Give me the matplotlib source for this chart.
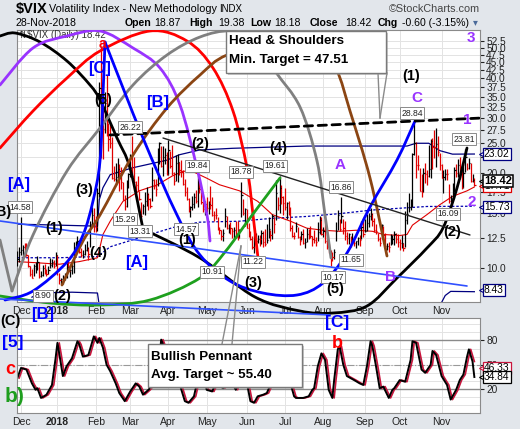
import matplotlib
matplotlib.use('Agg')
import matplotlib.pyplot as plt
from matplotlib.path import Path
from matplotlib.patches import PathPatch, Rectangle
from matplotlib.lines import Line2D
import matplotlib.ticker as mticker
import numpy as np
import pandas as pd

plt.rcParams['font.family'] = ['Liberation Sans', 'DejaVu Sans']

# ---- daily VIX bars, 29-Nov-2017 .. 28-Nov-2018 ----
close = [
    10.70, 11.28,
    11.43, 11.68, 11.33, 11.02, 10.16, 9.58, 9.34, 10.18, 10.18, 10.49, 9.42, 9.53, 10.03, 9.72, 9.62, 9.90, 10.25, 10.47, 10.18, 11.04,
    9.77, 9.15, 9.22, 9.22, 9.52, 10.08, 9.82, 9.88, 10.16, 11.66, 11.91, 12.22, 11.27, 11.03, 11.10, 11.47, 11.58, 11.08, 13.84, 14.79, 13.54,
    13.47, 17.31, 37.32, 29.98, 27.73, 33.46, 29.06, 25.61, 24.97, 19.26, 19.13, 19.46, 20.60, 20.02, 18.72, 16.49, 15.80, 18.59, 19.85,
    22.47, 19.59, 18.73, 18.36, 17.76, 16.54, 14.64, 15.78, 16.35, 17.23, 16.59, 15.80, 19.02, 18.20, 17.86, 23.34, 24.87, 21.03, 22.50, 22.87, 19.97,
    23.62, 21.10, 20.06, 18.94, 21.49, 21.77, 20.47, 20.24, 18.49, 17.41, 16.56, 15.25, 15.60, 15.96, 16.88, 16.34, 18.02, 17.84, 16.24, 15.41, 15.93,
    15.49, 15.97, 15.90, 14.77, 14.75, 14.71, 13.42, 13.23, 12.65, 12.93, 14.63, 13.42, 13.43, 13.42, 13.08, 13.22, 12.58, 12.53, 13.22, 17.02, 14.94, 15.43,
    13.46, 12.74, 12.40, 11.64, 12.13, 12.18, 12.35, 12.34, 12.94, 12.12, 11.98, 12.31, 13.35, 12.79, 14.64, 13.77, 17.33, 15.92, 17.91, 16.85, 16.09,
    15.60, 16.14, 14.97, 13.37, 12.69, 12.64, 13.63, 12.58, 12.18, 12.83, 12.06, 12.10, 12.87, 12.86, 12.62, 12.41, 12.29, 12.14, 13.03, 14.26, 12.83,
    13.15, 12.19, 11.64, 11.27, 10.93, 10.85, 11.27, 13.16, 14.78, 13.31, 14.64, 13.45, 12.64, 12.49, 12.86, 12.25, 12.41, 11.99, 12.16, 12.50, 12.25, 13.53, 12.86,
    13.16, 13.91, 14.65, 14.88, 14.16, 13.22, 13.14, 12.37, 12.07, 13.68, 12.79, 11.75, 11.80, 11.68, 12.20, 12.42, 12.89, 12.41, 12.12,
    12.00, 12.05, 11.61, 14.22, 14.82, 15.69, 15.95, 22.96, 24.98, 21.31, 21.30, 17.62, 17.40, 20.06, 19.89, 19.64, 20.71, 25.23, 24.22, 24.16, 24.70, 23.35, 21.23,
    19.34, 19.51, 19.96, 19.91, 16.36, 16.72, 17.36, 20.45, 20.02, 21.25, 19.98, 18.14, 20.10, 22.48, 20.80, 21.52, 18.90, 19.02, 18.42,
]
high = [
    11.32, 11.68,
    14.58, 11.83, 12.05, 12.01, 10.98, 10.18, 9.98, 10.32, 10.48, 10.95, 10.50, 9.81, 10.28, 10.35, 9.97, 10.15, 10.77, 10.67, 10.63, 11.26,
    10.98, 9.65, 9.31, 9.54, 9.66, 10.38, 10.83, 9.98, 10.45, 12.15, 12.19, 12.66, 12.28, 11.56, 11.41, 11.96, 12.18, 11.68, 14.15, 15.66, 15.48,
    14.63, 17.96, 38.80, 50.30, 31.64, 36.17, 41.06, 28.87, 28.63, 26.06, 21.16, 21.50, 22.31, 21.48, 20.90, 18.79, 17.06, 18.98, 20.03,
    23.00, 26.22, 22.46, 18.97, 19.55, 17.64, 16.20, 16.04, 17.42, 18.05, 17.37, 16.69, 20.95, 19.14, 19.17, 23.98, 25.07, 24.46, 24.47, 24.11, 23.42,
    25.54, 23.46, 24.60, 20.15, 22.85, 22.98, 21.78, 21.98, 20.54, 19.19, 18.06, 16.74, 15.76, 16.93, 17.31, 17.75, 19.84, 19.68, 18.08, 16.27, 16.35,
    16.78, 16.34, 18.17, 16.85, 15.21, 15.58, 14.57, 13.55, 13.25, 13.30, 15.47, 14.61, 13.86, 14.00, 13.38, 13.50, 14.15, 14.11, 13.29, 18.78, 16.60, 15.50,
    15.43, 13.93, 13.12, 12.67, 12.84, 12.96, 12.71, 12.76, 13.21, 13.12, 13.31, 13.82, 14.52, 13.24, 14.89, 14.53, 19.03, 16.84, 19.61, 18.35, 16.93,
    17.92, 16.18, 16.34, 15.65, 13.71, 13.03, 14.05, 13.52, 12.70, 13.10, 13.35, 12.48, 13.46, 13.28, 13.58, 12.65, 13.21, 12.58, 14.04, 14.69, 14.53,
    13.56, 14.21, 12.55, 11.97, 11.45, 11.26, 11.51, 13.97, 15.29, 14.30, 16.86, 14.32, 14.09, 13.04, 12.95, 12.69, 12.98, 12.57, 12.19, 12.59, 12.77, 14.15, 14.09,
    14.33, 14.86, 15.02, 15.58, 15.01, 14.48, 13.82, 12.91, 12.56, 13.85, 13.57, 12.91, 12.04, 12.11, 12.84, 12.79, 13.11, 12.90, 12.85,
    12.38, 12.71, 11.99, 15.18, 16.23, 17.36, 16.63, 23.16, 28.84, 25.17, 22.81, 20.85, 19.93, 20.77, 21.57, 20.43, 24.63, 25.71, 25.96, 27.37, 27.83, 26.22, 23.25,
    21.46, 20.50, 20.60, 20.69, 18.56, 17.06, 18.69, 20.95, 21.33, 22.18, 22.45, 21.03, 21.39, 23.81, 21.61, 22.34, 21.63, 19.89, 19.38,
]
low = [
    10.18, 10.44,
    10.99, 10.65, 10.84, 10.91, 10.13, 9.45, 9.31, 9.42, 9.66, 9.88, 9.33, 9.38, 9.42, 9.60, 9.43, 9.56, 10.01, 10.09, 10.03, 10.18,
    9.52, 8.92, 8.92, 8.90, 9.19, 9.31, 9.73, 9.40, 9.57, 9.64, 11.04, 11.66, 11.20, 10.86, 10.81, 10.98, 11.35, 10.62, 11.70, 13.56, 13.06,
    13.05, 13.15, 16.80, 22.42, 22.21, 26.87, 26.20, 23.58, 24.07, 19.19, 18.93, 18.41, 19.17, 17.60, 17.79, 16.40, 15.29, 15.60, 17.95,
    19.40, 19.12, 17.64, 17.05, 17.58, 16.46, 14.53, 14.85, 14.80, 15.79, 15.29, 15.54, 16.34, 17.88, 16.92, 18.27, 21.41, 20.93, 19.56, 21.37, 19.73,
    19.72, 20.83, 19.73, 18.38, 18.94, 18.72, 19.81, 19.52, 18.33, 16.96, 16.50, 15.04, 14.57, 15.29, 15.47, 16.15, 15.64, 17.33, 16.02, 15.13, 14.77,
    15.12, 14.84, 15.38, 14.62, 14.16, 14.28, 13.26, 12.80, 12.26, 12.19, 13.51, 13.28, 12.90, 12.83, 12.47, 12.36, 12.48, 12.25, 12.47, 14.58, 14.73, 13.63,
    13.45, 12.58, 12.26, 11.55, 11.22, 11.84, 12.06, 11.75, 11.96, 11.72, 11.73, 12.06, 12.46, 12.18, 12.39, 12.90, 14.18, 15.28, 14.95, 16.01, 14.74,
    15.33, 14.28, 14.80, 13.16, 12.52, 12.36, 13.04, 12.51, 11.87, 12.31, 11.93, 11.60, 12.08, 12.40, 12.43, 11.74, 12.00, 11.80, 12.21, 12.87, 12.71,
    12.57, 12.03, 11.52, 11.18, 10.17, 10.53, 10.73, 12.20, 13.27, 13.08, 13.88, 12.87, 12.32, 11.98, 11.92, 11.65, 11.90, 11.78, 11.63, 11.86, 11.77, 12.42, 12.55,
    12.99, 13.14, 13.52, 14.22, 13.62, 13.04, 12.84, 12.20, 11.74, 12.38, 12.46, 11.56, 11.40, 11.27, 11.84, 11.95, 11.87, 12.00, 11.71,
    11.42, 11.62, 11.34, 11.67, 13.85, 15.07, 15.29, 15.65, 22.80, 19.34, 20.52, 17.55, 16.81, 17.44, 18.58, 18.30, 19.43, 19.27, 20.71, 22.43, 20.90, 22.73, 20.55,
    19.28, 17.35, 19.05, 19.02, 16.09, 16.27, 16.81, 17.45, 19.45, 19.51, 19.25, 17.86, 18.03, 20.21, 20.47, 20.59, 18.82, 18.74, 18.18,
]
holidays = ['2017-12-25', '2018-01-01', '2018-01-15', '2018-02-19', '2018-03-30',
            '2018-05-28', '2018-07-04', '2018-09-03', '2018-11-22']
month_names = ['Dec', '2018', 'Feb', 'Mar', 'Apr', 'May', 'Jun', 'Jul', 'Aug', 'Sep', 'Oct', 'Nov']
price_ticks = [10.0, 12.5, 15.0, 17.5, 20.0, 22.5, 25.0, 27.5, 30.0, 32.5, 35.0, 37.5,
               40.0, 42.5, 45.0, 47.5, 50.0, 52.5]
osc_ticks = [20, 50, 80]

# overlays (bar index, value)
ma50_idx = [0, 12, 23, 34, 44, 47, 51, 58, 67, 77, 85, 91, 96, 104, 111, 122, 132, 140, 150,
            159, 168, 177, 186, 195, 201, 210, 214, 217, 225, 232, 239, 247, 251]
ma50_val = [10.5, 10.4, 10.3, 10.5, 10.8, 12.8, 14.1, 16.3, 17.6, 18.4, 19.6, 20.3, 20.3, 19.3,
            18.4, 17.6, 16.3, 14.8, 14.1, 13.4, 13.2, 13.1, 13.2, 13.1, 12.8, 12.7, 12.8, 13.7,
            14.8, 15.9, 16.9, 17.6, 18.1]
ma200_idx = [0, 23, 44, 51, 69, 88, 100, 122, 140, 159, 177, 195, 210, 225, 251]
ma200_val = [10.8, 10.8, 10.9, 11.7, 12.6, 13.6, 14.0, 14.1, 14.4, 14.6, 14.9, 15.3, 15.5, 15.7, 15.73]
bb_up_idx = [0, 23, 44, 45, 47, 51, 63, 82, 89, 100, 118, 159, 195, 214, 219, 226, 232, 239, 251]
bb_up_val = [13.8, 13.7, 13.6, 16.5, 18.0, 19.8, 20.8, 22.0, 22.9, 23.7, 24.0, 24.4, 24.4, 24.4,
             24.9, 24.9, 23.6, 23.0, 23.02]
bb_lo_idx = [8, 12, 30, 44, 45, 140, 232, 235, 238, 251]
bb_lo_val = [8.1, 8.35, 8.4, 8.35, 7.6, np.nan, 7.6, 8.2, 8.45, 8.43]

# lower oscillator
osc_idx = [0, 2, 5, 8, 10, 11, 13, 16, 19, 21, 22, 23, 25, 27, 30, 33, 34, 36, 39, 42, 44, 45, 47,
           49, 51, 54, 56, 59, 62, 65, 67, 69, 72, 75, 77, 79, 80, 82, 86, 89, 92, 94, 97, 99, 101,
           104, 107, 109, 113, 117, 120, 122, 125, 128, 130, 132, 135, 137, 139, 142, 146, 150,
           152, 153, 157, 160, 162, 163, 165, 167, 169, 171, 173, 174, 176, 177, 179, 181, 185,
           188, 190, 192, 194, 195, 197, 199, 201, 204, 206, 207, 210, 213, 216, 217, 219, 222,
           224, 227, 228, 230, 233, 236, 238, 241, 243, 245, 247, 248, 250, 251]
osc_k = [33.6, 46, 44, 27, 19, 21, 9, 13, 25, 58, 77, 64, 36, 48, 58, 79, 75, 60, 62, 85, 77, 83, 71,
         50, 42, 27, 15, 5, 17, 27, 23, 13, 19, 27, 36, 81, 75, 56, 48, 27, 5, 3, 11, 31, 48,
         19, 17, 27, 21, 31, 19, 36, 40, 5, 3, 11, 13, 15, 25, 36, 46, 27,
         11, 9, 9, 11, 19, 21, 48, 64, 56, 19, 9, 31, 69, 73, 50, 36, 31,
         27, 25, 48, 79, 73, 48, 21, 23, 9, 19, 21, 31, 29, 56, 79, 77, 44,
         40, 50, 67, 62, 36, 25, 7, 19, 31, 38, 60, 69, 54, 34.84]

W, H = 520, 429
BG = '#e2e6eb'


def fx(x):
    return x / W


def fy(y):
    return 1 - y / H


fig = plt.figure(figsize=(5.2, 4.29), dpi=100, facecolor=BG)
ax = fig.add_axes([fx(17), fy(302), 463 / W, 272 / H])
ax2 = fig.add_axes([fx(17), fy(413), 463 / W, 95 / H])

n = len(close)
idx = np.arange(n)
dates = pd.bdate_range('2017-11-29', '2018-11-28')
dates = dates[~dates.isin(pd.to_datetime(holidays))][:n]
month_pos = [i for i in range(1, len(dates)) if dates[i].month != dates[i - 1].month]

for a in (ax, ax2):
    a.set_facecolor('white')
    a.set_xlim(-0.2, 254.1)
    a.set_xticks(month_pos)
    a.set_xticklabels(month_names[:len(month_pos)], fontsize=7.5, color='#222')
    a.get_xticklabels()[1].set_fontweight('bold')
    a.tick_params(axis='x', length=0, pad=3)
    a.yaxis.tick_right()
    a.tick_params(axis='y', length=3, labelsize=7.3, pad=1.5, colors='#222')
    a.grid(True, color='#e3e3e3', lw=0.7)
    a.set_axisbelow(True)
    for s in a.spines.values():
        s.set_color('#8a8a8a')

# ---- price panel ----
ax.set_yscale('log')
ax.set_ylim(7.82, 56.9)
ax.yaxis.set_major_locator(mticker.FixedLocator(price_ticks))
ax.yaxis.set_minor_locator(mticker.NullLocator())
ax.yaxis.set_major_formatter(mticker.FormatStrFormatter('%.1f'))

ax.plot(bb_up_idx, bb_up_val, color='#000080', lw=0.9, zorder=2)
ax.plot(bb_lo_idx, bb_lo_val, color='#000080', lw=0.9, zorder=2)
ax.plot(ma200_idx, ma200_val, color='#0000b0', lw=0.9, ls=(0, (2, 1.5)), zorder=2)
ax.plot(ma50_idx, ma50_val, color='#e00000', lw=0.8, zorder=2)

c = np.array(close)
down = np.r_[False, c[1:] < c[:-1]]
colors = np.where(down, '#e00000', '#000000')
ax.vlines(idx, low, high, colors=colors, lw=0.9, zorder=3)
ax.hlines(close, idx, idx + 0.7, colors=colors, lw=0.9, zorder=3)

# ---- oscillator panel ----
ax2.set_ylim(-9.6, 107.7)
ax2.set_yticks(osc_ticks)
ax2.set_yticks(np.arange(0, 101, 10), minor=True)
ax2.tick_params(axis='y', which='minor', length=0)
ax2.grid(True, which='minor', axis='y', color='#e3e3e3', lw=0.7)
ax2.axhline(80, color='#8a8a8a', lw=1)
ax2.axhline(20, color='#8a8a8a', lw=1)
ax2.axhline(50, color='#999999', lw=0.8, ls='-.')
ax2.plot(np.array(osc_idx[:-1]) + 1, osc_k[:-1], color='#c8143c', lw=1.2)
ax2.plot(osc_idx, osc_k, color='black', lw=1.4)

# ---- hand drawn annotations (reference pixel space) ----
clip = Rectangle((0, fy(318)), fx(480), (318 - 30) / H, transform=fig.transFigure)


def curve(points, color, lw=2.0, smooth=True, ls='-', z=2):
    pts = np.array([(fx(x), fy(y)) for x, y in points])
    verts = [pts[0]]
    codes = [Path.MOVETO]
    if smooth:
        m = len(pts)
        for k in range(m - 1):
            p0 = pts[k - 1] if k > 0 else pts[k]
            p1, p2 = pts[k], pts[k + 1]
            p3 = pts[k + 2] if k + 2 < m else pts[k + 1]
            verts += [p1 + (p2 - p0) / 6, p2 - (p3 - p1) / 6, p2]
            codes += [Path.CURVE4] * 3
    else:
        verts += list(pts[1:])
        codes += [Path.LINETO] * (len(pts) - 1)
    p = PathPatch(Path(verts, codes), transform=fig.transFigure, fill=False,
                  ec=color, lw=lw, ls=ls, zorder=z, capstyle='round')
    fig.add_artist(p)
    p.set_clip_path(clip)


curve([(0, 36), (15, 33), (40, 42), (67, 61), (90, 85), (100, 100), (117, 138), (130, 168), (143, 229)], 'black')
curve([(143, 229), (200, 258), (255, 297), (300, 311), (333, 313), (367, 306), (397, 278),
       (427, 248), (443, 228), (457, 188), (467, 148)], 'black')
curve([(0, 85), (33, 48), (67, 36), (100, 31), (133, 48), (160, 68), (180, 105), (197, 168),
       (207, 215), (210, 241)], '#9933ff')
curve([(0, 148), (33, 111), (67, 78), (100, 51), (150, 31), (187, 41), (213, 68), (233, 111),
       (247, 168), (253, 215), (258, 258)], '#ff0000')
curve([(0, 240), (12, 291)], '#808080', smooth=False)
curve([(12, 291), (33, 235), (67, 171), (100, 128), (133, 85), (167, 55), (200, 37), (230, 31),
       (255, 40), (275, 71), (300, 107), (317, 161), (325, 215), (331, 258)], '#808080')
curve([(62, 285), (83, 241), (100, 215), (133, 155), (167, 108), (200, 75), (227, 55), (280, 42),
       (320, 52), (337, 71), (350, 111), (370, 178), (387, 256)], '#8b4513')
curve([(0, 296), (50, 303), (100, 305), (150, 300), (200, 278), (225, 252), (250, 218), (280, 178)], '#1ea01e')
curve([(5, 300), (33, 291), (67, 262), (83, 235), (93, 201), (100, 161), (103, 95), (105, 42)], '#0000ff')
curve([(105, 42), (143, 138), (177, 215), (200, 255), (230, 281), (263, 293), (297, 295),
       (323, 283), (347, 253), (370, 207), (397, 160), (415, 121)], '#0000ff')

curve([(110, 135), (482, 118)], 'black', lw=2, smooth=False, ls=(0, (3, 2)))
curve([(163, 138), (470, 235)], '#222222', lw=1, smooth=False)
curve([(0, 221), (467, 286)], '#3050ff', lw=1.2, smooth=False)
curve([(0, 299), (330, 315)], '#3050ff', lw=1.2, smooth=False)

# price point labels
point_labels = [('14.58', 20, 207), ('8.90', 43, 296), ('26.22', 130, 127), ('15.29', 125, 219),
                ('13.31', 140, 231), ('19.84', 197, 166), ('14.57', 186, 229), ('18.78', 241, 172),
                ('10.91', 212, 272), ('11.22', 253, 262), ('19.61', 275, 166), ('16.86', 341, 187),
                ('10.17', 333, 277), ('11.65', 351, 260), ('28.84', 412, 113), ('23.81', 464, 139),
                ('16.09', 448, 214)]
for s, x, y in point_labels:
    fig.text(fx(x), fy(y), s, ha='center', va='center', fontsize=6.2, color='#222', zorder=4,
             bbox=dict(boxstyle='square,pad=0.15', fc='white', ec='#8a8a8a', lw=0.7))

BLUE, PURP, RED, GREEN = '#0000ff', '#9933ff', '#ff0000', '#1e9e1e'
wave_labels = [('[A]', 19, 184, BLUE, 12), ('(B)', 11, 212, 'black', 10.5), ('(1)', 54, 228, 'black', 10.5),
               ('(3)', 84, 190, 'black', 10.5), ('(4)', 98, 253, 'black', 10.5), ('(2)', 62, 296, 'black', 10.5),
               ('(5)', 103, 100, 'black', 10.5), ('[C]', 100, 69, BLUE, 12), ('a', 102, 44, RED, 10),
               ('[B]', 158, 103, BLUE, 12), ('(2)', 200, 144, 'black', 10.5), ('(1)', 187, 240, 'black', 10.5),
               ('[A]', 137, 262, BLUE, 12), ('(3)', 253, 283, 'black', 10.5), ('(4)', 278, 148, 'black', 10.5),
               ('A', 340, 165, PURP, 11), ('(5)', 335, 289, 'black', 10.5), ('B', 390, 277, PURP, 11),
               ('(1)', 411, 76, 'black', 10.5), ('C', 417, 98, PURP, 11), ('1', 467, 120, PURP, 11),
               ('2', 472, 202, PURP, 11), ('3', 471, 38, PURP, 11), ('(2)', 452, 232, 'black', 10.5),
               ('[B]', 43, 314, BLUE, 12), ('(C)', 10, 321, 'black', 10.5), ('[5]', 13, 343, BLUE, 12.5),
               ('c', 10, 370, RED, 13), ('b)', 15, 396, GREEN, 15), ('[C]', 337, 322, BLUE, 12.5),
               ('b', 337, 344, RED, 13)]
for s, x, y, col, fs in wave_labels:
    ha = 'right' if s == '(B)' else 'center'
    fig.text(fx(x), fy(y), s, ha=ha, va='center', fontsize=fs, fontweight='bold', color=col, zorder=5)


def callout(x0, y0, x1, y1, lines, tip):
    fig.add_artist(Rectangle((fx(x0 + 2), fy(y1 + 2)), (x1 - x0) / W, (y1 - y0) / H,
                             transform=fig.transFigure, fc='#9a9a9a', ec='none', alpha=0.5, zorder=5.8))
    bx = tip[0]
    for ex in tip[1]:
        fig.add_artist(Line2D([fx(ex), fx(bx)], [fy(tip[2]), fy(tip[3])], transform=fig.transFigure,
                              color='#8a8a8a', lw=1, zorder=5.7))
    fig.add_artist(Rectangle((fx(x0), fy(y1)), (x1 - x0) / W, (y1 - y0) / H,
                             transform=fig.transFigure, fc='white', ec='#7a7a7a', lw=1, zorder=6))
    for s, ty in lines:
        fig.text(fx(x0 + 3), fy(ty), s, ha='left', va='center', fontsize=9.6, fontweight='bold',
                 color='black', zorder=7)


callout(226, 31, 386, 73, [('Head & Shoulders', 41.5), ('Min. Target = 47.51', 60)],
        (380, [378, 387], 73, 118))
callout(148, 344, 302, 387, [('Bullish Pennant', 357), ('Avg. Target ~ 55.40', 375)],
        (241, [222, 232], 344, 246))

# header
fig.text(fx(16), fy(9), '\\$VIX', fontsize=10.5, fontweight='bold', va='center')
fig.text(fx(49), fy(9), 'Volatility Index - New Methodology', fontsize=7.8, va='center')
fig.text(fx(219), fy(9.5), 'INDX', fontsize=7, va='center')
fig.text(fx(480), fy(9), '\u00a9StockCharts.com', fontsize=7.8, va='center', ha='right', color='#444')
fig.text(fx(16), fy(22.5), '28-Nov-2018', fontsize=7.6, va='center')
for s, x, bold in [('Open', 125, True), ('18.87', 154, False), ('High', 189, True), ('19.38', 218, False),
                   ('Low', 250, True), ('18.18', 274, False), ('Close', 310, True), ('18.42', 345, False),
                   ('Chg', 378, True), ('-0.60 (-3.15%)', 402, False)]:
    fig.text(fx(x), fy(22.5), s, fontsize=7.6, va='center', fontweight='bold' if bold else 'normal')
fig.text(fx(475), fy(22.5), '\u25be', fontsize=7, va='center', ha='center', color='#4a6a9a')
fig.text(fx(19), fy(35), '\u21c5\\$VIX (Daily) 18.42', fontsize=7, va='center', color='#333', zorder=1.5)

# right hand value tags
tags = [('17.71', 186, '#e00000', False), ('23.02', 154, '#000080', False), ('18.42', 181, 'black', True),
        ('15.73', 207, '#000080', False), ('8.43', 290, '#000080', False),
        ('46.33', 368, '#c8143c', False), ('34.84', 377, 'black', False)]
for k, (s, y, col, bold) in enumerate(tags):
    fig.add_artist(Line2D([fx(481.5)], [fy(y)], marker='<', ms=4, mfc='white', mec=col, mew=0.8,
                          transform=fig.transFigure, zorder=7 + k * 0.1))
    fig.text(fx(484), fy(y), s, ha='left', va='center', fontsize=8 if bold else 7.4,
             fontweight='bold' if bold else 'normal', zorder=7 + k * 0.1,
             bbox=dict(boxstyle='square,pad=0.12', fc='white', ec=col, lw=1.1 if bold else 0.9))

fig.savefig('out.png', dpi=100, facecolor=BG)
